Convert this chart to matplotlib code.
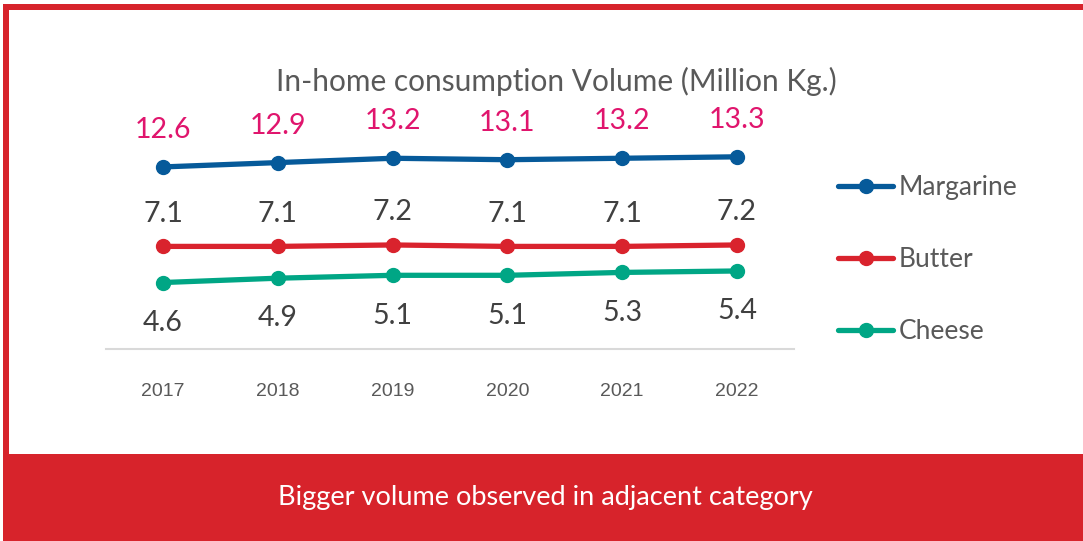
import matplotlib
matplotlib.use("Agg")
import matplotlib.pyplot as plt
from matplotlib.patches import Rectangle
from matplotlib.lines import Line2D

years = ["2017", "2018", "2019", "2020", "2021", "2022"]
margarine = [12.6, 12.9, 13.2, 13.1, 13.2, 13.3]
butter = [7.1, 7.1, 7.2, 7.1, 7.1, 7.2]
cheese = [4.6, 4.9, 5.1, 5.1, 5.3, 5.4]
series_names = ["Margarine", "Butter", "Cheese"]
title = "In-home consumption Volume (Million Kg.)"
banner_text = "Bigger volume observed in adjacent category"

RED = "#D7232B"
BLUE = "#065A9A"
BRED = "#D9232D"
TEAL = "#00A685"
PINK = "#E0156D"
GRAY = "#404040"
TICKGRAY = "#595959"

W, H = 1083, 541
fig = plt.figure(figsize=(W / 100, H / 100), dpi=100)
fig.patch.set_facecolor("white")

def px_rect(x0, y0, x1, y1, color, z=0):
    fig.patches.append(Rectangle((x0 / W, 1 - y1 / H), (x1 - x0) / W, (y1 - y0) / H,
                                 transform=fig.transFigure, facecolor=color,
                                 edgecolor="none", zorder=z))

px_rect(3, 4, W, 10, RED)        # top border
px_rect(3, 4, 9, H, RED)         # left border
px_rect(3, 454, W, H, RED)       # bottom banner

fig.text(545 / W, 1 - 497 / H, banner_text, color="white", fontsize=19.5,
         family="Lato", ha="center", va="center")
fig.text(556 / W, 1 - 81 / H, title, color=TICKGRAY, fontsize=21.5,
         family="Lato", ha="center", va="center")

ymax = 14.5
ppu = 14.45
ax = fig.add_axes([105.6 / W, (H - 349) / H, 688.8 / W, ymax * ppu / H])
ax.set_xlim(-0.5, 5.5)
ax.set_ylim(0, ymax)
x = list(range(len(years)))

lw = 3.8
ms = 10
ax.plot(x, margarine, color=BLUE, lw=lw, marker="o", ms=ms, solid_capstyle="round", zorder=3)
ax.plot(x, butter, color=BRED, lw=lw, marker="o", ms=ms, solid_capstyle="round", zorder=3)
ax.plot(x, cheese, color=TEAL, lw=lw, marker="o", ms=ms, solid_capstyle="round", zorder=3)

lab_fs = 20.5
for xi, v in zip(x, margarine):
    ax.annotate(f"{v:.1f}", (xi, v), xytext=(0, 26.5), textcoords="offset points",
                ha="center", va="center", color=PINK, fontsize=lab_fs, family="Lato")
for xi, v in zip(x, butter):
    ax.annotate(f"{v:.1f}", (xi, v), xytext=(0, 23.5), textcoords="offset points",
                ha="center", va="center", color=GRAY, fontsize=lab_fs, family="Lato")
for xi, v in zip(x, cheese):
    ax.annotate(f"{v:.1f}", (xi, v), xytext=(0, -29), textcoords="offset points",
                ha="center", va="center", color=GRAY, fontsize=lab_fs, family="Lato")

for s in ["top", "right", "left"]:
    ax.spines[s].set_visible(False)
ax.spines["bottom"].set_color("#D9D9D9")
ax.spines["bottom"].set_linewidth(1.5)
ax.set_yticks([])
ax.set_xticks(x)
ax.set_xticklabels(years, color=TICKGRAY, fontsize=14, family="Liberation Sans")
ax.tick_params(axis="x", length=0, pad=24.5)
ax.patch.set_alpha(0)

handles = [Line2D([0], [0], color=c, lw=lw, marker="o", ms=ms, solid_capstyle="round")
           for c in [BLUE, BRED, TEAL]]
leg = fig.legend(handles, series_names, loc="upper left",
                 bbox_to_anchor=(838 / W, 1 - 175 / H), frameon=False,
                 handlelength=2.1, handletextpad=0.2, labelspacing=1.78,
                 prop={"family": "Lato", "size": 19}, labelcolor=TICKGRAY,
                 borderaxespad=0, borderpad=0)

fig.savefig("out.png", dpi=100)
